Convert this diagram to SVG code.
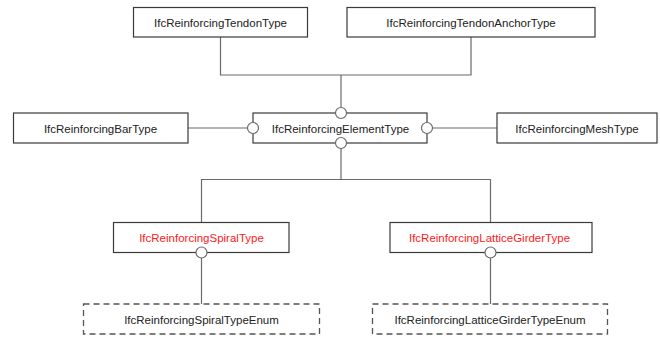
<svg xmlns="http://www.w3.org/2000/svg" width="660" height="338" viewBox="0 0 660 338">
<style>
.box{fill:#fff;stroke:#3a3a3a;stroke-width:1.2}
.dbox{fill:#fff;stroke:#555;stroke-width:1.3;stroke-dasharray:6 4}
.t{font-family:"Liberation Sans",Arial,sans-serif;font-size:11.5px;fill:#222;text-anchor:middle}
.r{fill:#ff1a1a}
.c{fill:none;stroke:#6a6a6a;stroke-width:1.2}
.o{fill:#fff;stroke:#6a6a6a;stroke-width:1.2}
</style>
<rect width="660" height="338" fill="#fff"/>
<g id="connectors">
<polyline class="c" points="220.5,37 220.5,75 471,75 471,37"/>
<line class="c" x1="341" y1="75" x2="341" y2="108"/>
<line class="c" x1="188" y1="128" x2="248" y2="128"/>
<line class="c" x1="432" y1="128" x2="497" y2="128"/>
<polyline class="c" points="341,148 341,179.5"/>
<polyline class="c" points="201.5,222.5 201.5,179.5 490.5,179.5 490.5,222.5"/>
<line class="c" x1="201.5" y1="258" x2="201.5" y2="304"/>
<line class="c" x1="490.5" y1="258" x2="490.5" y2="304"/>
</g>
<g id="IfcReinforcingTendonType"><rect class="box" x="133.5" y="7.5" width="174" height="29.5"/><text class="t" x="220.5" y="26.5">IfcReinforcingTendonType</text></g>
<g id="IfcReinforcingTendonAnchorType"><rect class="box" x="347" y="7.5" width="248" height="29.5"/><text class="t" x="471" y="26.5">IfcReinforcingTendonAnchorType</text></g>
<g id="IfcReinforcingBarType"><rect class="box" x="13.5" y="113" width="174.5" height="30"/><text class="t" x="100.5" y="132.5">IfcReinforcingBarType</text></g>
<g id="IfcReinforcingElementType"><rect class="box" x="253" y="113" width="174" height="30"/><text class="t" x="340.5" y="132.5">IfcReinforcingElementType</text></g>
<g id="IfcReinforcingMeshType"><rect class="box" x="497" y="113" width="160" height="30"/><text class="t" x="577" y="132.5">IfcReinforcingMeshType</text></g>
<g id="IfcReinforcingSpiralType"><rect class="box" x="113.5" y="222.5" width="175.5" height="30"/><text class="t r" x="201.5" y="242">IfcReinforcingSpiralType</text></g>
<g id="IfcReinforcingLatticeGirderType"><rect class="box" x="390" y="222.5" width="202" height="30"/><text class="t r" x="489.5" y="242">IfcReinforcingLatticeGirderType</text></g>
<g id="IfcReinforcingSpiralTypeEnum"><rect class="dbox" x="83.5" y="304" width="236" height="30"/><text class="t" x="201.5" y="323.5">IfcReinforcingSpiralTypeEnum</text></g>
<g id="IfcReinforcingLatticeGirderTypeEnum"><rect class="dbox" x="372.5" y="304" width="235" height="30"/><text class="t" x="490" y="323.5">IfcReinforcingLatticeGirderTypeEnum</text></g>
<g id="ends">
<circle class="o" cx="341" cy="113" r="5.5"/>
<circle class="o" cx="341" cy="143" r="5.5"/>
<circle class="o" cx="253" cy="128" r="5.5"/>
<circle class="o" cx="427" cy="128" r="5.5"/>
<circle class="o" cx="201.5" cy="252.5" r="5.5"/>
<circle class="o" cx="490.5" cy="252.5" r="5.5"/>
</g>
</svg>
